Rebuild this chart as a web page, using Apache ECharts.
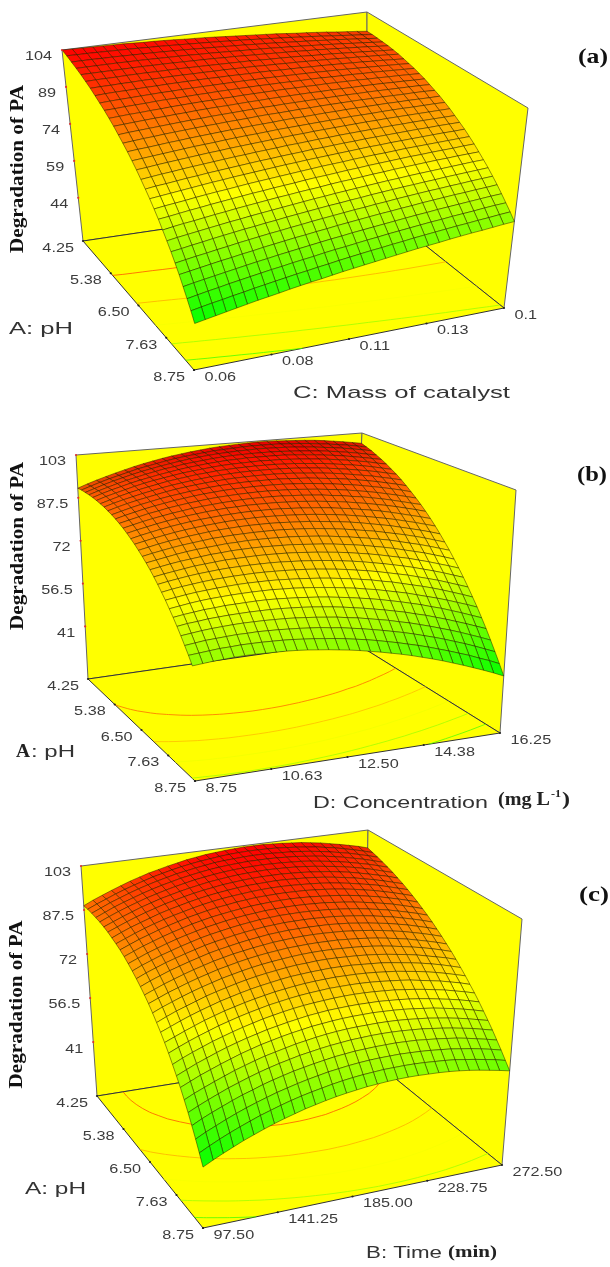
<!DOCTYPE html>
<html><head><meta charset="utf-8"><style>html,body{margin:0;background:#fff}#c{width:610px;height:1267px}</style>
<script src="https://cdn.jsdelivr.net/npm/echarts@6/dist/echarts.min.js"></script></head><body><div id="c"></div>
<script>
// Degradation of PA, in tenths of a unit.
// Rows: pH from low to high. Columns: the second factor from low to high.
const surfaceA=[
[1040,1039,1038,1037,1036,1035,1034,1032,1030,1029,1027,1025,1022,1020,1018,1015,1012,1009,1006,1003,1000,997,993,989,986,982,978,973,969,965,960],
[1032,1031,1031,1030,1029,1028,1027,1026,1024,1023,1021,1019,1017,1015,1013,1011,1008,1006,1003,1000,997,994,991,987,984,980,976,972,968,964,960],
[1022,1022,1022,1021,1021,1020,1019,1018,1017,1016,1014,1013,1011,1009,1007,1005,1003,1001,998,996,993,990,987,984,981,977,974,970,966,962,958],
[1012,1012,1012,1012,1012,1011,1011,1010,1009,1008,1007,1006,1004,1003,1001,999,997,995,993,991,988,986,983,980,977,974,971,967,964,960,956],
[1002,1002,1002,1002,1002,1002,1002,1001,1001,1000,999,998,997,996,994,993,991,989,987,985,983,981,978,976,973,970,967,964,961,957,954],
[990,991,991,991,992,992,992,991,991,991,990,989,988,987,986,985,984,982,980,979,977,975,972,970,968,965,962,959,956,953,950],
[978,979,979,980,980,981,981,981,981,981,980,980,979,979,978,977,976,974,973,971,970,968,966,964,962,959,957,954,952,949,946],
[964,966,967,967,968,969,969,970,970,970,970,970,969,969,968,967,967,966,964,963,962,960,959,957,955,953,951,948,946,943,940],
[950,952,953,954,955,956,957,957,958,958,958,958,958,958,958,957,957,956,955,954,953,952,950,949,947,945,943,941,939,937,934],
[936,937,939,940,941,943,944,944,945,946,946,947,947,947,947,947,946,946,945,944,944,943,941,940,939,937,936,934,932,930,928],
[920,922,924,925,927,928,930,931,932,933,933,934,934,935,935,935,935,935,934,934,933,933,932,931,930,928,927,925,924,922,920],
[904,906,908,910,912,913,915,916,918,919,920,920,921,922,922,923,923,923,923,923,922,922,921,920,920,919,918,916,915,913,912],
[886,889,891,893,895,897,899,901,902,904,905,906,907,908,909,909,910,910,910,910,910,910,910,909,909,908,907,906,905,904,902],
[868,871,874,876,879,881,883,885,887,888,890,891,892,894,895,895,896,897,897,898,898,898,898,898,897,897,896,895,895,894,892],
[850,853,855,858,861,863,866,868,870,872,874,875,877,878,879,881,882,882,883,884,884,885,885,885,885,885,884,884,883,882,882],
[830,833,836,839,842,845,848,850,852,855,857,859,860,862,864,865,866,867,868,869,870,871,871,871,872,872,872,871,871,871,870],
[810,813,817,820,823,826,829,832,834,837,839,841,843,845,847,849,850,852,853,854,855,856,857,857,858,858,858,858,858,858,858],
[788,792,796,799,803,806,809,812,815,818,820,823,825,827,830,831,833,835,836,838,839,840,841,842,843,843,844,844,844,844,844],
[766,771,774,778,782,785,789,792,795,798,801,804,806,809,811,813,816,817,819,821,822,824,825,826,827,828,829,829,830,830,830],
[744,748,752,756,760,764,768,771,775,778,781,784,787,790,792,795,797,799,801,803,805,807,808,810,811,812,813,814,815,815,816],
[720,725,729,733,738,742,746,749,753,757,760,763,766,769,772,775,778,780,782,785,787,789,790,792,794,795,796,797,798,799,800],
[696,700,705,710,714,719,723,727,731,735,738,742,745,748,752,755,757,760,763,765,768,770,772,774,776,777,779,780,781,783,784],
[670,676,681,685,690,695,699,704,708,712,716,720,723,727,730,733,737,740,742,745,748,750,753,755,757,759,761,762,764,765,766],
[644,650,655,660,665,670,675,679,684,688,692,696,700,704,708,711,715,718,721,724,727,730,732,735,737,739,741,743,745,747,748],
[618,623,629,634,640,645,650,655,659,664,668,673,677,681,685,689,692,696,699,703,706,709,712,714,717,719,722,724,726,728,730],
[590,596,602,607,613,618,624,629,634,639,643,648,652,657,661,665,669,673,676,680,683,687,690,693,696,698,701,703,706,708,710],
[562,568,574,580,586,591,597,602,608,613,618,623,627,632,636,641,645,649,653,657,660,664,667,671,674,677,680,682,685,687,690],
[532,539,545,551,557,563,569,575,580,586,591,596,601,606,611,615,620,624,628,632,636,640,644,647,651,654,657,660,663,666,668],
[502,509,516,522,529,535,541,547,553,558,564,569,574,580,585,589,594,599,603,608,612,616,620,624,627,631,634,637,641,644,646],
[472,479,486,492,499,505,512,518,524,530,536,541,547,552,558,563,568,573,577,582,586,591,595,599,603,607,610,614,617,621,624],
[440,447,454,461,468,475,482,488,494,501,507,513,518,524,530,535,540,545,550,555,560,565,569,573,578,582,586,589,593,597,600]];
const surfaceB=[
[910,922,933,943,953,962,971,979,986,993,999,1004,1009,1013,1017,1020,1022,1024,1025,1026,1026,1025,1023,1021,1019,1016,1012,1007,1002,996,990],
[912,923,934,944,953,962,971,978,985,992,998,1003,1007,1011,1015,1017,1019,1021,1022,1022,1022,1021,1019,1017,1014,1010,1006,1001,996,990,983],
[912,923,934,944,953,962,970,977,984,990,996,1001,1005,1009,1012,1014,1016,1017,1018,1018,1017,1016,1014,1011,1008,1004,1000,995,989,983,976],
[912,923,933,943,952,960,968,975,982,987,993,997,1001,1005,1008,1010,1011,1012,1012,1012,1011,1009,1007,1004,1001,997,992,987,981,974,967],
[911,922,932,941,950,958,965,972,978,984,989,993,997,1000,1003,1004,1006,1006,1006,1006,1005,1003,1000,997,993,989,984,978,972,965,958],
[909,920,929,938,947,955,962,968,974,980,984,988,992,995,997,998,999,1000,999,999,997,995,992,989,985,980,975,969,963,955,948],
[906,916,926,935,943,950,957,964,969,974,979,982,986,988,990,991,992,992,992,990,989,986,983,980,975,970,965,959,952,944,936],
[903,913,922,930,938,945,952,958,963,968,972,976,979,981,983,984,984,984,983,982,980,977,974,970,965,960,954,948,941,933,925],
[898,908,917,925,932,939,946,952,957,961,965,968,971,973,974,975,975,975,974,972,969,966,963,959,954,948,942,936,928,920,912],
[893,902,911,919,926,933,939,944,949,953,957,960,962,964,965,965,965,965,963,961,959,955,951,947,942,936,930,923,915,907,898],
[887,896,904,912,919,925,931,936,941,945,948,951,953,954,955,955,955,954,952,950,947,943,939,934,929,923,916,909,901,893,883],
[880,888,896,904,910,917,922,927,931,935,938,940,942,943,944,944,943,942,940,937,934,930,926,921,915,909,902,894,886,877,868],
[872,880,888,895,901,907,912,917,921,924,927,929,931,932,932,932,931,929,927,924,921,916,912,906,901,894,887,879,870,861,852],
[863,871,878,885,891,897,902,906,910,913,916,917,919,919,919,919,917,916,913,910,906,902,897,891,885,878,871,863,854,845,835],
[853,861,868,875,881,886,891,895,898,901,903,905,906,906,906,905,903,901,898,895,891,886,881,875,869,862,854,845,836,827,817],
[843,850,857,863,869,874,878,882,885,888,890,891,892,892,891,890,888,886,883,879,875,870,864,858,851,844,836,827,818,808,798],
[831,838,845,851,856,861,865,869,872,874,876,877,877,877,876,874,872,870,866,862,858,853,847,840,833,826,817,808,799,789,778],
[819,826,832,838,843,847,851,855,857,859,860,861,861,861,860,858,856,853,849,845,840,834,828,822,814,806,798,789,779,768,757],
[806,812,818,824,829,833,836,839,842,843,845,845,845,844,843,841,838,835,831,826,821,815,809,802,795,786,777,768,758,747,736],
[792,798,804,809,813,817,821,823,826,827,828,828,827,826,825,822,819,816,812,807,802,796,789,782,774,765,756,747,736,725,713],
[777,783,788,793,798,801,804,807,808,809,810,810,809,808,806,803,800,796,792,787,781,775,768,760,752,744,734,724,713,702,690],
[761,767,772,777,781,784,787,789,790,791,791,791,790,788,786,783,780,776,771,766,760,753,746,738,730,721,711,701,690,678,666],
[744,750,755,759,763,766,768,770,771,772,772,771,770,768,766,763,759,755,750,744,738,731,723,715,707,697,687,677,665,653,641],
[727,732,737,741,744,747,749,751,752,752,752,751,749,747,744,741,737,732,727,721,715,707,700,691,682,673,663,652,640,628,615],
[708,713,718,722,725,727,729,730,731,731,731,729,728,725,722,718,714,709,704,697,691,683,675,667,657,647,637,626,614,602,589],
[689,694,698,702,704,707,708,709,710,710,709,707,705,702,699,695,690,685,679,673,666,658,650,641,632,621,611,599,587,574,561],
[669,674,677,681,683,685,686,687,687,687,686,684,682,679,675,671,666,660,654,647,640,632,624,614,605,594,583,571,559,546,533],
[648,652,656,659,661,663,664,664,664,663,662,660,657,654,650,646,640,635,628,621,614,605,597,587,577,566,555,543,530,517,503],
[626,630,634,636,638,640,640,641,640,639,637,635,632,629,624,620,614,608,601,594,586,578,569,559,549,538,526,514,501,487,473],
[604,607,610,613,614,616,616,616,615,614,612,609,606,602,598,593,587,581,574,566,558,549,540,530,519,508,496,484,470,457,442],
[580,583,586,588,590,591,591,590,589,588,586,583,579,575,570,565,559,552,545,537,529,520,510,500,489,477,465,452,439,425,410]];
const surfaceC=[
[890,905,918,931,943,955,965,975,983,991,998,1005,1010,1015,1018,1021,1023,1025,1025,1025,1023,1021,1018,1015,1010,1005,998,991,983,975,965],
[891,905,918,931,943,954,964,974,982,990,997,1003,1008,1012,1016,1019,1021,1022,1022,1021,1020,1017,1014,1010,1006,1000,994,986,978,969,959],
[890,904,918,930,942,953,963,972,980,988,994,1000,1005,1010,1013,1015,1017,1018,1018,1017,1015,1013,1010,1006,1001,995,988,981,972,963,953],
[888,902,916,928,939,950,960,969,977,985,991,997,1002,1006,1009,1011,1013,1013,1013,1012,1010,1008,1004,1000,995,989,982,974,966,956,946],
[886,900,913,925,936,947,956,965,973,980,987,992,997,1001,1004,1006,1007,1008,1007,1006,1004,1002,998,993,988,982,975,967,959,949,939],
[882,895,908,920,932,942,952,960,968,975,981,987,991,995,998,1000,1001,1002,1001,1000,998,995,991,986,981,975,968,960,951,941,931],
[877,890,903,915,926,936,946,954,962,969,975,980,985,988,991,993,994,994,994,992,990,987,983,979,973,967,959,951,942,933,922],
[870,884,897,908,919,930,939,947,955,962,968,973,977,981,984,985,986,987,986,984,982,979,975,970,964,958,950,942,933,923,913],
[863,876,889,901,912,922,931,939,947,954,960,965,969,972,975,977,978,978,977,975,973,970,966,961,955,948,941,933,923,913,903],
[855,868,881,892,903,913,922,931,938,945,951,955,960,963,966,967,968,968,967,966,963,960,956,951,945,938,931,922,913,903,892],
[845,858,871,882,893,903,912,921,928,935,940,945,949,953,955,957,958,958,957,955,952,949,945,940,934,927,920,911,902,892,881],
[834,847,860,871,882,892,901,909,917,923,929,934,938,941,944,945,946,946,945,943,941,937,933,928,922,915,908,900,890,880,869],
[822,836,848,860,870,880,889,898,905,911,917,922,926,930,932,934,934,934,933,931,929,925,921,916,910,903,896,887,878,868,857],
[809,823,835,847,857,867,876,885,892,898,904,909,913,917,919,921,921,921,920,918,916,912,908,903,897,890,883,874,865,855,844],
[795,809,821,833,843,853,862,871,878,884,890,895,899,903,905,907,907,907,906,905,902,899,894,889,883,877,869,861,851,841,830],
[780,793,806,817,828,838,847,856,863,870,875,880,884,888,890,892,893,893,892,890,888,884,880,875,869,862,855,846,837,827,816],
[764,777,790,801,812,822,831,840,847,854,860,865,869,872,875,876,877,877,876,875,872,869,865,860,854,847,840,831,822,812,801],
[746,760,772,784,795,805,814,823,830,837,843,848,852,855,858,860,861,861,860,858,856,853,849,844,838,831,824,816,807,797,786],
[727,741,754,765,776,787,796,804,812,819,825,830,834,838,841,842,844,844,843,841,839,836,832,827,821,815,808,799,790,781,770],
[708,721,734,746,757,767,777,785,793,800,806,811,816,820,822,824,825,826,825,824,821,818,815,810,804,798,791,783,774,764,753],
[687,700,713,725,737,747,757,765,773,780,786,792,796,800,803,805,806,807,806,805,803,800,796,792,786,780,773,765,756,746,736],
[665,679,692,704,715,726,735,744,752,759,766,771,776,780,783,785,787,787,787,786,784,781,777,773,768,761,754,747,738,729,718],
[641,656,669,681,693,703,713,722,730,738,744,750,755,759,762,764,766,767,767,766,764,761,758,753,748,742,735,728,719,710,700],
[617,631,645,657,669,680,690,699,707,715,721,727,732,737,740,743,744,745,745,744,743,740,737,733,728,722,715,708,700,691,681],
[592,606,620,632,644,655,666,675,684,691,698,704,709,714,717,720,722,723,723,723,721,719,716,712,707,702,695,688,680,671,661],
[565,580,593,606,618,630,640,650,659,666,673,680,685,690,694,697,699,700,700,700,699,697,694,690,686,680,674,667,659,650,641],
[537,552,566,579,592,603,614,624,633,641,648,655,660,665,669,672,675,676,677,677,676,674,671,668,663,658,652,645,638,629,620],
[508,524,538,551,564,576,586,597,606,614,622,628,634,639,644,647,650,651,652,652,652,650,648,644,640,635,630,623,615,607,598],
[478,494,508,522,535,547,558,568,578,586,594,601,607,613,617,621,624,626,627,627,627,625,623,620,616,612,606,600,593,585,576],
[447,463,478,492,505,517,529,539,549,558,566,573,579,585,590,594,597,599,601,601,601,600,598,595,592,588,582,576,569,562,553],
[415,431,446,460,474,486,498,509,519,528,537,544,551,557,562,566,570,572,574,575,575,574,572,570,567,563,558,552,545,538,530]];

const pHTicks=['4.25','5.38','6.50','7.63','8.75'];
const massTicks=['0.06','0.08','0.11','0.13','0.1'];
const concTicks=['8.75','10.63','12.50','14.38','16.25'];
const timeTicks=['97.50','141.25','185.00','228.75','272.50'];
const zTicksA=[104,89,74,59,44];
const zTicksBC=[103,87.5,72,56.5,41];
const contourA=[95,84,73,62,51];
const contourB=[90,80,70,60,50];
const contourC=[93,82,71,60,49];

// Box corners of each perspective view: L/F/B/R floor corners and their tops.
const panels=[
 {table:surfaceA,zMin:26.5,zMax:104,zT:zTicksA,uT:pHTicks,vT:massTicks,levels:contourA,
  Lb:[83,241],Fb:[194,370],Bb:[367,199],Rb:[504,308],Lt:[62,50],Ft:[197,164],Bt:[367,12],Rt:[528,108]},
 {table:surfaceB,zMin:22,zMax:103,zT:zTicksBC,uT:pHTicks,vT:concTicks,levels:contourB,
  Lb:[88,679],Fb:[195,781],Bb:[352,641],Rb:[500,733],Lt:[76,455],Ft:[189,522],Bt:[362,433],Rt:[516,490]},
 {table:surfaceC,zMin:22,zMax:103,zT:zTicksBC,uT:pHTicks,vT:timeTicks,levels:contourC,
  Lb:[97,1096],Fb:[203,1228],Bb:[364,1053],Rb:[502,1165],Lt:[81,866],Ft:[203,975],Bt:[368,830],Rt:[522,919]}
];
const SANS='"Liberation Sans"',SERIF='"Liberation Serif"';
const meas=document.createElement('canvas').getContext('2d');
function lerp(a,b,t){return [a[0]+(b[0]-a[0])*t,a[1]+(b[1]-a[1])*t];}
function proj(p,u,v,z){
  const w=(z-p.zMin)/(p.zMax-p.zMin);
  const bot=lerp(lerp(p.Lb,p.Fb,u),lerp(p.Bb,p.Rb,u),v);
  const top=lerp(lerp(p.Lt,p.Ft,u),lerp(p.Bt,p.Rt,u),v);
  return lerp(bot,top,w);
}
function colour(z,lo,hi,shade){
  const s=shade===undefined?1:shade;
  const t=Math.max(0,Math.min(1,(z-lo)/(hi-lo)));
  const r=t<.5?510*t:255, g=t<.5?255:510*(1-t);
  return 'rgb('+Math.round(r*s)+','+Math.round(g*s)+',0)';
}
panels.forEach(p=>{
  const all=p.table.flat();
  p.lo=Math.min(...all)/10; p.hi=Math.max(...all)/10; p.N=p.table.length-1;
});

function contourSegs(p){
  const segs=[],N=p.N,T=p.table;
  p.levels.forEach(l=>{
    const L=l*10;
    for(let i=0;i<N;i++)for(let j=0;j<N;j++){
      const c=[[i,j],[i+1,j],[i+1,j+1],[i,j+1]],pts=[];
      for(let k=0;k<4;k++){
        const a=c[k],b=c[(k+1)%4],za=T[a[0]][a[1]],zb=T[b[0]][b[1]];
        if((za<L)!==(zb<L)){
          const t=(L-za)/(zb-za);
          pts.push([(a[0]+(b[0]-a[0])*t)/N,(a[1]+(b[1]-a[1])*t)/N]);
        }
      }
      if(pts.length>=2)segs.push([l,pts[0][0],pts[0][1],pts[1][0],pts[1][1]]);
    }
  });
  return segs;
}

const base={type:'custom',coordinateSystem:'cartesian2d',silent:true,animation:false,clip:false,progressive:0,tooltip:{show:false}};
function fixed(pts,api){return pts.map(q=>api.coord(q));}
function areaOf(q){let s=0;for(let k=0;k<q.length;k++){const a=q[k],b=q[(k+1)%q.length];s+=a[0]*b[1]-b[0]*a[1];}return Math.abs(s)/2;}
const series=[];
panels.forEach(p=>{
  // walls and floor
  series.push(Object.assign({},base,{z:1,data:[[0,0],[1,0],[2,0]],renderItem(_,api){
    const k=api.value(0),a=p.zMin,b=p.zMax;
    const pts=k===0?[[0,0,b],[0,1,b],[0,1,a],[0,0,a]]:k===1?[[0,1,b],[1,1,b],[1,1,a],[0,1,a]]:[[0,0,a],[1,0,a],[1,1,a],[0,1,a]];
    return {type:'polygon',shape:{points:fixed(pts.map(q=>proj(p,q[0],q[1],q[2])),api)},
      style:{fill:'#ffff00',stroke:k===2?'#333':'#666',lineWidth:1}};
  }}));
  // floor contours
  series.push(Object.assign({},base,{z:2,data:contourSegs(p),renderItem(_,api){
    const a=api.coord(proj(p,api.value(1),api.value(2),p.zMin)),b=api.coord(proj(p,api.value(3),api.value(4),p.zMin));
    return {type:'line',shape:{x1:a[0],y1:a[1],x2:b[0],y2:b[1]},style:{stroke:colour(api.value(0),p.lo,p.hi),lineWidth:0.9,opacity:0.85}};
  }}));
  // surface mesh, painted back to front; foreshortened cells read darker, as in the reference
  const cells=[];
  for(let i=0;i<p.N;i++)for(let j=p.N-1;j>=0;j--)cells.push([i,j]);
  series.push(Object.assign({},base,{z:3,data:cells,renderItem(_,api){
    const i=api.value(0),j=api.value(1),T=p.table,N=p.N;
    const q=[[i,j],[i+1,j],[i+1,j+1],[i,j+1]];
    const zs=q.map(c=>T[c[0]][c[1]]/10);
    const mean=(zs[0]+zs[1]+zs[2]+zs[3])/4;
    const pts=fixed(q.map((c,k)=>proj(p,c[0]/N,c[1]/N,zs[k])),api);
    const shade=Math.min(1,0.62+areaOf(pts)/110);
    return {type:'polygon',shape:{points:pts},
      style:{fill:colour(mean,p.lo,p.hi,shade),stroke:'rgba(25,20,0,0.62)',lineWidth:0.75}};
  }}));
  // tick marks
  const marks=[];
  p.zT.forEach(z=>marks.push([0,z]));
  p.uT.forEach((_,k)=>marks.push([1,k/4]));
  p.vT.forEach((_,k)=>marks.push([2,k/4]));
  series.push(Object.assign({},base,{z:4,data:marks,renderItem(_,api){
    const k=api.value(0),t=api.value(1);
    const c=api.coord(k===0?proj(p,0,0,t):k===1?proj(p,t,0,p.zMin):proj(p,1,t,p.zMin));
    return {type:'circle',shape:{cx:c[0],cy:c[1],r:1.1},style:{fill:k===0?'#e03030':'#222'}};
  }}));
});

// every text: [string, font, colour, align, x, y, target width or 0, x-scale, rotation]
const texts=[];
const tickFont='12.5px '+SANS;
panels.forEach(p=>{
  p.zT.forEach(z=>{const c=proj(p,0,0,z);texts.push([String(z),tickFont,'#3c3c3c','right',c[0]-10,c[1]+7,0,1.3,0]);});
  p.uT.forEach((s,k)=>{const c=proj(p,k/4,0,p.zMin);texts.push([s,tickFont,'#3c3c3c','right',c[0]-9,c[1]+7.5,0,1.3,0]);});
  p.vT.forEach((s,k)=>{const c=proj(p,1,k/4,p.zMin);texts.push([s,tickFont,'#3c3c3c','left',c[0]+10.5,c[1]+7.5,0,1.3,0]);});
});
const titleSans='17px '+SANS,boldSerif='bold 18px '+SERIF;
[[18,169],[18,546],[17,1004.5]].forEach(c=>texts.push(['Degradation of PA','bold 19px '+SERIF,'#111','center',c[0],c[1],168,0,Math.PI/2]));
[['(a)',578,57],['(b)',577,475],['(c)',579,895]].forEach(t=>texts.push([t[0],'bold 22px '+SERIF,'#111','left',t[1],t[2],30,0,0]));
texts.push(['A: pH',titleSans,'#333','left',9,329,64,0,0]);
texts.push(['C: Mass of catalyst',titleSans,'#333','left',293,393,217,0,0]);
texts.push(['A',boldSerif,'#222','left',16,752,14,0,0]);
texts.push([': pH',titleSans,'#333','left',31,752,44,0,0]);
texts.push(['D: Concentration',titleSans,'#333','left',313,803,175,0,0]);
texts.push(['(mg L',boldSerif,'#222','left',498,800,52,0,0]);
texts.push(['-1','bold 10px '+SERIF,'#222','left',551,794,10,0,0]);
texts.push([')',boldSerif,'#222','left',562,800,8,0,0]);
texts.push(['A: pH',titleSans,'#333','left',25,1189,61,0,0]);
texts.push(['B: Time',titleSans,'#333','left',366,1253,76,0,0]);
texts.push(['(min)','bold 17px '+SERIF,'#222','left',448,1253,49,0,0]);

series.push(Object.assign({},base,{z:5,data:texts.map((_,k)=>[k]),renderItem(_,api){
  const t=texts[api.value(0)],c=api.coord([t[4],t[5]]);
  meas.font=t[1];
  const sx=t[6]?t[6]/meas.measureText(t[0]).width:t[7];
  return {type:'text',x:c[0],y:c[1],scaleX:sx,rotation:t[8],
    style:{text:t[0],font:t[1],fill:t[2],align:t[3],verticalAlign:'middle'}};
}}));

const chart=echarts.init(document.getElementById('c'),null,{renderer:'canvas',width:610,height:1267});
chart.setOption({backgroundColor:'#fff',animation:false,
  grid:{left:0,right:0,top:0,bottom:0},
  xAxis:{type:'value',min:0,max:610,show:false},
  yAxis:{type:'value',min:0,max:1267,inverse:true,show:false},
  series});
</script></body></html>
